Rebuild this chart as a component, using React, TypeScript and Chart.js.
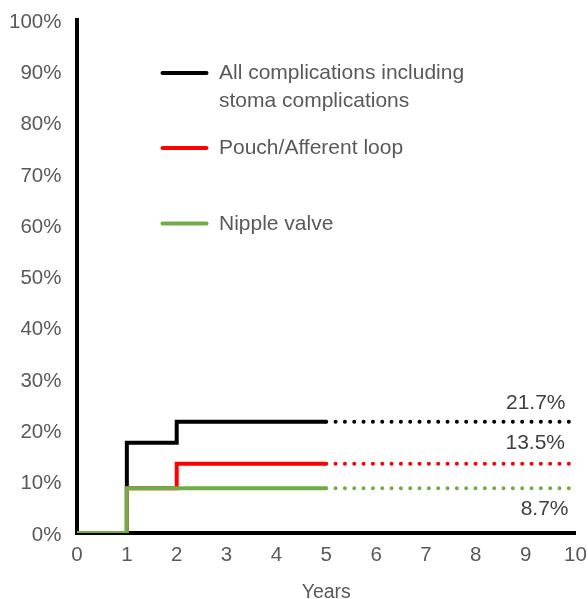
import { useEffect, useRef } from "react";
import { Chart, registerables } from "chart.js";

Chart.register(...registerables);

// ---- data ----
const xTickValues = [0, 1, 2, 3, 4, 5, 6, 7, 8, 9, 10];
const yTickValues = [0, 10, 20, 30, 40, 50, 60, 70, 80, 90, 100];
const xAxisTitle = "Years";

const seriesNames = [
  "All complications including stoma complications",
  "Pouch/Afferent loop",
  "Nipple valve",
];
const legendLines = [
  ["All complications including", "stoma complications"],
  ["Pouch/Afferent loop"],
  ["Nipple valve"],
];
const seriesColors = ["#000000", "#ff0000", "#70ad47"];

const observedYears = [0, 1, 2, 5];
const allComplications = [0, 17.6, 21.7, 21.7];
const pouchAfferentLoop = [0, 8.7, 13.5, 13.5];
const nippleValve = [0, 8.7, 8.7, 8.7];

const projectionYears = [5, 10];
const finalValues = [21.7, 13.5, 8.7];
const finalLabels = ["21.7%", "13.5%", "8.7%"];

const FONT = '"Liberation Sans", Arial, Helvetica, sans-serif';

export default function App() {
  const canvasRef = useRef<HTMLCanvasElement | null>(null);

  useEffect(() => {
    document.body.style.margin = "0";
    const canvas = canvasRef.current;
    if (!canvas) return;

    const observed = [allComplications, pouchAfferentLoop, nippleValve];

    const solidSets = observed.map((vals, i) => ({
      label: seriesNames[i],
      data: observedYears.map((x, j) => ({ x, y: vals[j] })),
      borderColor: seriesColors[i],
      backgroundColor: seriesColors[i],
      borderWidth: 4,
      pointRadius: 0,
      stepped: "before" as const,
      fill: false,
      order: 2 - i,
      borderCapStyle: "butt" as const,
      borderJoinStyle: "miter" as const,
    }));

    const projSets = finalValues.map((v, i) => ({
      label: seriesNames[i] + " (projection)",
      data: projectionYears.map((x) => ({ x, y: v })),
      borderColor: seriesColors[i],
      backgroundColor: seriesColors[i],
      borderWidth: 4,
      pointRadius: 0,
      borderDash: [0, 9.33],
      borderCapStyle: "round" as const,
      fill: false,
      order: 2 - i,
    }));

    const annotations = {
      id: "annotations",
      afterDatasetsDraw(chart: any) {
        const ctx = chart.ctx as CanvasRenderingContext2D;
        const xs = chart.scales.x;
        const ys = chart.scales.y;
        ctx.save();
        // end-value labels
        ctx.font = `21px ${FONT}`;
        ctx.fillStyle = "#404040";
        ctx.textAlign = "right";
        ctx.textBaseline = "middle";
        const dy = [-18.5, -20.5, 21];
        const dx = [-10, -10.5, -7];
        finalValues.forEach((v, i) => {
          ctx.fillText(
            finalLabels[i],
            xs.getPixelForValue(projectionYears[1]) + dx[i],
            ys.getPixelForValue(v) + dy[i]
          );
        });
        // legend
        const lineY = [73, 148, 223.5];
        const textY = [[73, 101], [148], [224]];
        legendLines.forEach((lines, i) => {
          ctx.strokeStyle = seriesColors[i];
          ctx.lineWidth = 4;
          ctx.lineCap = "round";
          ctx.beginPath();
          ctx.moveTo(162.5, lineY[i]);
          ctx.lineTo(206.5, lineY[i]);
          ctx.stroke();
          ctx.fillStyle = "#595959";
          ctx.textAlign = "left";
          ctx.textBaseline = "middle";
          ctx.font = `21px ${FONT}`;
          lines.forEach((t, k) => ctx.fillText(t, 219, textY[i][k]));
        });
        ctx.restore();
      },
    };

    const chart = new Chart(canvas, {
      type: "line",
      data: { datasets: [...solidSets, ...projSets] as any },
      options: {
        responsive: false,
        animation: false,
        maintainAspectRatio: false,
        layout: { padding: { top: 20, right: 12.5, left: 0, bottom: 0 } },
        plugins: {
          legend: { display: false },
          tooltip: { enabled: false },
        },
        scales: {
          x: {
            type: "linear",
            min: 0,
            max: 10,
            afterBuildTicks: (scale: any) => {
              scale.ticks = xTickValues.map((value) => ({ value }));
            },
            afterFit: (scale: any) => {
              scale.height = 66;
              scale.paddingLeft = 0;
              scale.paddingRight = 0;
            },
            grid: { display: false, drawTicks: false },
            border: { display: true, color: "#000000", width: 4 },
            ticks: {
              color: "#595959",
              font: { family: FONT, size: 20.5 },
              padding: 10.5,
              maxRotation: 0,
              autoSkip: false,
            },
            title: {
              display: true,
              text: xAxisTitle,
              color: "#595959",
              font: { family: FONT, size: 19.5, lineHeight: 1 },
              padding: { top: 0, bottom: -3 },
            },
          },
          y: {
            type: "linear",
            min: 0,
            max: 100,
            afterBuildTicks: (scale: any) => {
              scale.ticks = yTickValues.map((value) => ({ value }));
            },
            afterFit: (scale: any) => {
              scale.width = 77;
              scale.paddingTop = 0;
              scale.paddingBottom = 0;
            },
            grid: { display: false, drawTicks: false },
            border: { display: true, color: "#000000", width: 4 },
            ticks: {
              color: "#595959",
              font: { family: FONT, size: 20.5 },
              padding: 15.5,
              labelOffset: 2,
              autoSkip: false,
              callback: (v: any) => `${v}%`,
            },
          },
        },
      },
      plugins: [annotations],
    });

    return () => chart.destroy();
  }, []);

  return (
    <div style={{ position: "absolute", left: 0, top: 0, width: 588, height: 599 }}>
      <canvas ref={canvasRef} width={588} height={599} style={{ width: 588, height: 599, display: "block" }} />
    </div>
  );
}
